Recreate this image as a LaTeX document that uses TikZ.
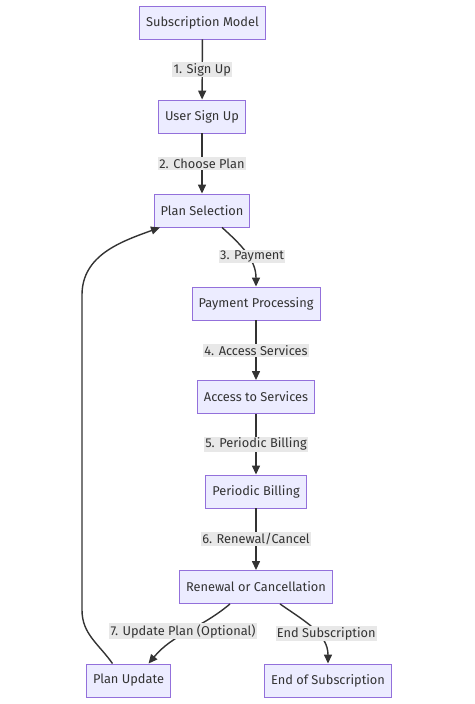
\documentclass[tikz,border=0pt]{standalone}
\usepackage{fontspec}
\setmainfont{Fira Sans}
\usepackage{tikz}
\usetikzlibrary{arrows.meta,positioning}
\definecolor{boxfill}{HTML}{ECECFF}
\definecolor{boxline}{HTML}{9370DB}
\definecolor{ink}{HTML}{333333}
\definecolor{lblfill}{HTML}{E8E8E8}
\tikzset{
  box/.style={draw=boxline,fill=boxfill,line width=0.9pt,minimum height=33pt,inner xsep=6.5pt,text=ink,font=\fontsize{12.8}{14}\selectfont},
  lbl/.style={fill=lblfill,inner sep=1.2pt,text=ink,font=\fontsize{12.8}{14}\selectfont},
  flow/.style={draw=ink,line width=1.4pt,-{Triangle[length=9pt,width=8pt]}}
}
\begin{document}
\begin{tikzpicture}[x=1pt,y=-1pt]
\useasboundingbox (0,0) rectangle (474,704);
\node[box] (sub) at (202.5,22.5) {Subscription Model};
\node[box] (usr) at (202,116.5) {User Sign Up};
\node[box] (sel) at (202,210.5) {Plan Selection};
\node[box] (pay) at (256,303.5) {Payment Processing};
\node[box] (acc) at (256,397) {Access to Services};
\node[box] (bil) at (256,491.5) {Periodic Billing};
\node[box] (ren) at (256,587) {Renewal or Cancellation};
\node[box] (upd) at (128.5,680.5) {Plan Update};
\node[box] (end) at (328,680.5) {End of Subscription};
\coordinate (lpb) at (82,610);
\coordinate (lpt) at (82,295);
\draw[flow] (sub) -- node[lbl] {1. Sign Up} (usr);
\draw[flow] (usr) -- node[lbl] {2. Choose Plan} (sel);
\draw[flow] ([xshift=20pt]sel.south) to[out=-42,in=90] node[lbl,pos=0.55,xshift=4pt] {3. Payment} (pay.north);
\draw[flow] (pay) -- node[lbl] {4. Access Services} (acc);
\draw[flow] (acc) -- node[lbl] {5. Periodic Billing} (bil);
\draw[flow] (bil) -- node[lbl] {6. Renewal/Cancel} (ren);
\draw[flow] ([xshift=-26pt]ren.south) to[out=-140,in=50] node[lbl,pos=0.48,xshift=-6pt] {7. Update Plan (Optional)} ([xshift=20pt]upd.north);
\draw[flow] ([xshift=24pt]ren.south) to[out=-35,in=90] node[lbl,pos=0.58,xshift=9pt] {End Subscription} (end.north);
\draw[flow] ([xshift=-16pt]upd.north) to[out=125,in=-90] (lpb) -- (lpt) to[out=90,in=200] ([xshift=-42pt]sel.south);
\end{tikzpicture}
\end{document}
